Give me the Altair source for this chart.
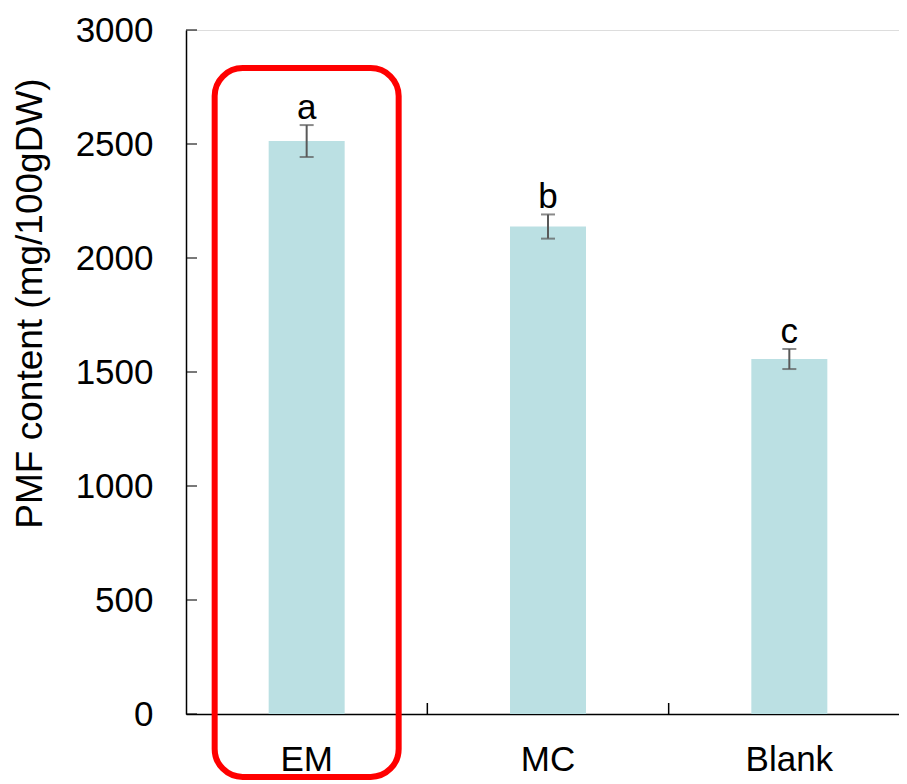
import altair as alt
import pandas as pd

categories = ["EM", "MC", "Blank"]
values = [2513, 2138, 1557]
errors = [70, 53, 44]
letters = ["a", "b", "c"]
y_ticks = [0, 500, 1000, 1500, 2000, 2500, 3000]
highlight_cat = ["EM"]
highlight_top = [2833]
highlight_bottom = [-276]

FONT = "Liberation Sans"
W, H = 724, 684

df = pd.DataFrame({
    "cat": categories,
    "val": values,
    "lo": [v - e for v, e in zip(values, errors)],
    "hi": [v + e for v, e in zip(values, errors)],
    "letter": letters,
})
ticks_df = pd.DataFrame({"t": y_ticks})
box_df = pd.DataFrame({"cat": highlight_cat, "top": highlight_top, "bottom": highlight_bottom})
xt_df = pd.DataFrame({"cat": categories[1:]})

xscale = alt.Scale(domain=categories, paddingInner=0, paddingOuter=0)
yscale = alt.Scale(domain=[0, 3000], nice=False)

x_enc = alt.X("cat:N", scale=xscale, sort=categories,
              axis=alt.Axis(title=None, ticks=False, tickSize=0, labelAngle=0,
                            labelFont=FONT, labelFontSize=35, labelColor="#000000",
                            labelPadding=28, domainColor="#000000", domainWidth=1.5))
y_enc = alt.Y("val:Q", scale=yscale,
              axis=alt.Axis(title="PMF content (mg/100gDW)", values=y_ticks, format="d",
                            ticks=False, tickSize=0, grid=False,
                            labelFont=FONT, labelFontSize=35, labelColor="#000000",
                            labelPadding=33, titleFont=FONT, titleFontSize=37,
                            titleFontWeight="normal", titleColor="#000000",
                            titleX=-156, titleY=273, titleAngle=270, titleAlign="center",
                            titleBaseline="middle",
                            domainColor="#000000", domainWidth=1.5))

bars = alt.Chart(df).mark_bar(color="#BBE0E3", size=76).encode(x=x_enc, y=y_enc)

err = alt.Chart(df).mark_rule(color="#595959", strokeWidth=2).encode(
    x=alt.X("cat:N", scale=xscale, sort=categories),
    y=alt.Y("lo:Q", scale=yscale), y2="hi:Q")
cap_hi = alt.Chart(df).mark_tick(color="#595959", size=14, thickness=2, orient="horizontal").encode(
    x=alt.X("cat:N", scale=xscale, sort=categories), y=alt.Y("hi:Q", scale=yscale))
cap_lo = alt.Chart(df).mark_tick(color="#595959", size=14, thickness=2, orient="horizontal").encode(
    x=alt.X("cat:N", scale=xscale, sort=categories), y=alt.Y("lo:Q", scale=yscale))

txt = alt.Chart(df).mark_text(font=FONT, fontSize=35, color="#000000", baseline="alphabetic", dy=-6).encode(
    x=alt.X("cat:N", scale=xscale, sort=categories), y=alt.Y("hi:Q", scale=yscale), text="letter:N")

box = alt.Chart(box_df).mark_bar(size=184, fill="transparent", stroke="#FF0000", strokeWidth=6,
                                 cornerRadius=28).encode(
    x=alt.X("cat:N", scale=xscale, sort=categories),
    y=alt.Y("top:Q", scale=yscale), y2="bottom:Q")

yt = alt.Chart(ticks_df).mark_tick(color="#000000", size=11, thickness=1.5, orient="horizontal").encode(
    y=alt.Y("t:Q", scale=yscale), x=alt.value(5.5))

xt = alt.Chart(xt_df).mark_rule(color="#000000", strokeWidth=1.5).encode(
    x=alt.X("cat:N", scale=xscale, sort=categories, bandPosition=0),
    y=alt.value(H - 11), y2=alt.value(H))

chart = alt.layer(bars, err, cap_hi, cap_lo, txt, box, yt, xt).properties(
    width=W, height=H,
    autosize=alt.AutoSizeParams(type="none"),
    padding={"left": 178, "top": 22, "right": -11, "bottom": 70},
).configure_view(stroke=None).configure(background="#ffffff")

chart.save("out.html", embed_options={"renderer": "svg", "actions": False})
